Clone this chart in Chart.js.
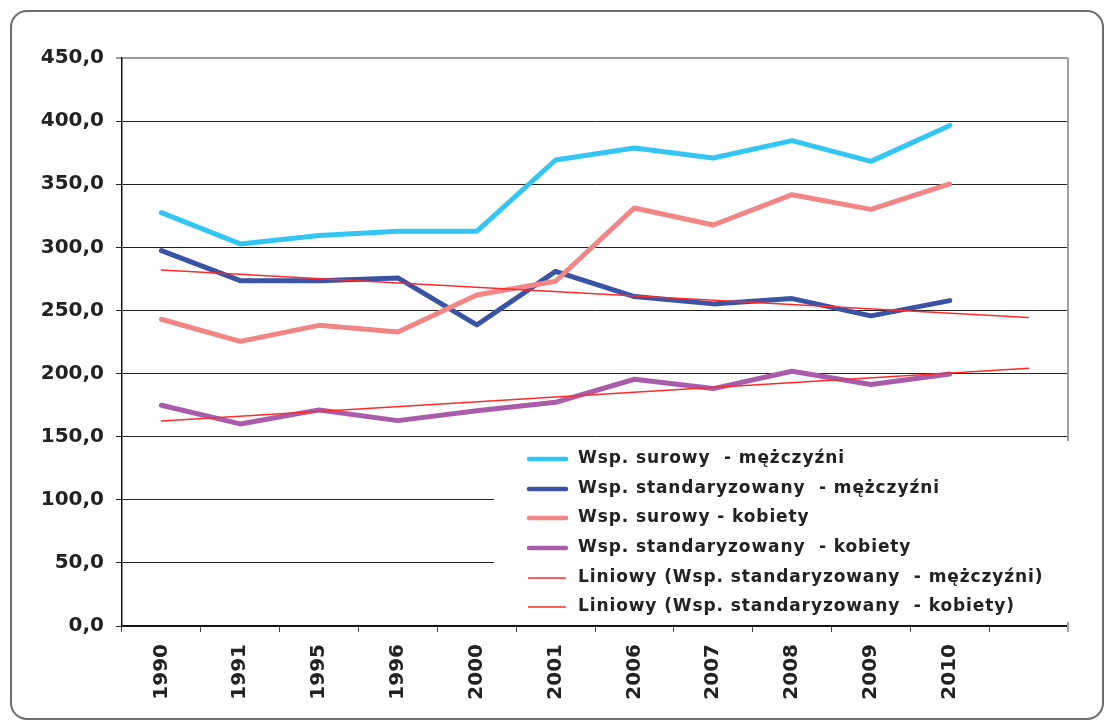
<!DOCTYPE html>
<html><head><meta charset="utf-8">
<script src="https://cdn.jsdelivr.net/npm/chart.js@4.4.1/dist/chart.umd.min.js"></script>
<style>html,body{margin:0;padding:0;background:#fff}#wrap{width:1105px;height:720px;position:relative}</style>
</head><body><div id="wrap"><canvas id="c" width="1105" height="720"></canvas></div>
<script>
const categories = ['1990','1991','1995','1996','2000','2001','2006','2007','2008','2009','2010',''];
const surowyM = [327.5,302.7,309.3,312.7,312.7,369.2,378.7,370.8,384.5,368.1,396.6,null];
const standM  = [297.4,273.6,273.6,275.8,238.5,281.0,261.0,255.2,259.4,245.7,257.8,null];
const surowyK = [243.0,225.5,238.2,233.0,262.3,273.1,331.2,317.7,341.7,330.1,350.2,null];
const standK  = [174.9,160.1,171.2,162.7,170.5,177.2,195.5,188.1,201.8,191.3,199.7,null];
const trendM  = [282.1,null,null,null,null,null,null,null,null,null,null,244.5];
const trendK  = [162.5,null,null,null,null,null,null,null,null,null,null,204.2];
const yMin = 0, yMax = 450, yStep = 50;
const labels = [
  'Wsp. surowy  - mężczyźni',
  'Wsp. standaryzowany  - mężczyźni',
  'Wsp. surowy - kobiety',
  'Wsp. standaryzowany  - kobiety',
  'Liniowy (Wsp. standaryzowany  - mężczyźni)',
  'Liniowy (Wsp. standaryzowany  - kobiety)'
];

const FONT = 'DejaVu Sans';

const framePlugin = {
  id: 'frame',
  beforeDraw(chart) {
    const c = chart.ctx;
    c.save();
    c.fillStyle = '#fff';
    c.fillRect(0, 0, chart.width, chart.height);
    c.strokeStyle = '#6e6e6e';
    c.lineWidth = 2;
    c.beginPath();
    c.roundRect(11, 11, 1092, 708, 16);
    c.stroke();
    c.restore();
  },
  beforeDatasetsDraw(chart) {
    const a = chart.chartArea, c = chart.ctx;
    c.save();
    c.strokeStyle = '#a0a0a0';
    c.lineWidth = 2;
    c.beginPath();
    c.moveTo(a.right, a.top);
    c.lineTo(a.right, a.bottom + 6);
    c.stroke();
    c.restore();
  }
};

const legendPlugin = {
  id: 'boxLegend',
  afterDraw(chart) {
    const c = chart.ctx;
    c.save();
    c.fillStyle = '#fff';
    c.fillRect(494, 441, 590, 181);
    const rows = [459, 489, 518, 548, 578, 607];
    c.font = 'bold 17px "' + FONT + '"';
    c.letterSpacing = '0.9px';
    c.textBaseline = 'middle';
    c.textAlign = 'left';
    chart.data.datasets.forEach((ds, i) => {
      const y = rows[i];
      c.strokeStyle = ds.borderColor;
      c.lineWidth = ds.borderWidth > 2 ? 4.5 : ds.borderWidth;
      c.lineCap = ds.borderWidth > 2 ? 'round' : 'butt';
      c.beginPath();
      c.moveTo(ds.borderWidth > 2 ? 529 : 528, y);
      c.lineTo(566, y);
      c.stroke();
      c.fillStyle = '#222';
      c.fillText(ds.label, 578, y);
    });
    c.restore();
  }
};

function mk(label, data, color, width, order) {
  return {
    label, data, borderColor: color, backgroundColor: color,
    borderWidth: width, pointRadius: 0, pointHoverRadius: 0,
    tension: 0, spanGaps: true, fill: false, order,
    borderCapStyle: 'round', borderJoinStyle: 'round'
  };
}

new Chart(document.getElementById('c'), {
  type: 'line',
  data: {
    labels: categories,
    datasets: [
      mk(labels[0], surowyM, '#33c5f3', 5, 6),
      mk(labels[1], standM, '#3a53a4', 5, 5),
      mk(labels[2], surowyK, '#f28585', 5, 4),
      mk(labels[3], standK, '#a95ca9', 5, 3),
      mk(labels[4], trendM, '#ff2a2a', 1.5, 2),
      mk(labels[5], trendK, '#ff2a2a', 1.5, 1)
    ]
  },
  options: {
    responsive: false,
    devicePixelRatio: 1,
    animation: false,
    layout: { padding: { left: 0, right: 37, top: 58, bottom: 0 } },
    plugins: { legend: { display: false }, tooltip: { enabled: false } },
    scales: {
      x: {
        type: 'category',
        offset: true,
        grid: { offset: true, drawOnChartArea: false, drawTicks: true, tickLength: 6, color: '#444', lineWidth: 1 },
        border: { color: '#111', width: 1.5 },
        ticks: {
          autoSkip: false, maxRotation: 90, minRotation: 90, padding: 12,
          color: '#222', font: { family: FONT, weight: 'bold', size: 20 }
        },
        afterFit(s) { s.height = 94; }
      },
      y: {
        min: yMin, max: yMax,
        grid: {
          color: (ctx) => (ctx.tick && ctx.tick.value === yMax) ? '#9a9a9a' : '#222',
          lineWidth: (ctx) => (ctx.tick && ctx.tick.value === yMax) ? 2 : 1,
          tickLength: 6, drawTicks: true
        },
        border: { color: '#111', width: 1.5 },
        ticks: {
          stepSize: yStep, padding: 12, color: '#222',
          font: { family: FONT, weight: 'bold', size: 20 },
          callback: (v) => v.toFixed(1).replace('.', ',')
        },
        afterFit(s) { s.width = 122; }
      }
    }
  },
  plugins: [framePlugin, legendPlugin]
});
</script>
</body></html>
